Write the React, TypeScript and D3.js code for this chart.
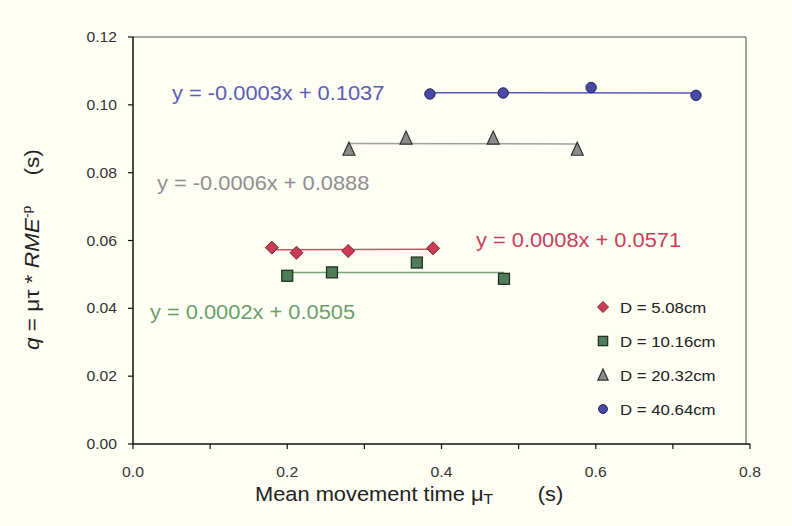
import React from "react";
import * as d3 from "d3";

const seriesNames = ["D = 5.08cm", "D = 10.16cm", "D = 20.32cm", "D = 40.64cm"];
const xRed = [0.18, 0.212, 0.279, 0.389];
const yRed = [0.0579, 0.0564, 0.0569, 0.0577];
const xGreen = [0.2, 0.258, 0.368, 0.481];
const yGreen = [0.0496, 0.0506, 0.0535, 0.0487];
const xGray = [0.28, 0.354, 0.467, 0.576];
const yGray = [0.0869, 0.0902, 0.0902, 0.0869];
const xBlue = [0.385, 0.48, 0.594, 0.73];
const yBlue = [0.1032, 0.1035, 0.1051, 0.1028];
const slopes = [0.0008, 0.0002, -0.0006, -0.0003];
const intercepts = [0.0571, 0.0505, 0.0888, 0.1037];
const equations = [
  "y = 0.0008x + 0.0571",
  "y = 0.0002x + 0.0505",
  "y = -0.0006x + 0.0888",
  "y = -0.0003x + 0.1037",
];
const xTicks = [0, 0.1, 0.2, 0.3, 0.4, 0.5, 0.6, 0.7, 0.8];
const xTickLabels = [0, 0.2, 0.4, 0.6, 0.8];
const yTicks = [0, 0.02, 0.04, 0.06, 0.08, 0.1, 0.12];

const W = 792, H = 526;
const M = { left: 133, right: 750, top: 37, bottom: 444 };
const FONT = "'Liberation Sans', Arial, sans-serif";
const SX = 1.12;

const styles = [
  { fill: "#cc3b55", stroke: "#7a2030", line: "#d05060", text: "#c8405a", shape: "diamond" },
  { fill: "#4f7d5a", stroke: "#1a2a1c", line: "#7aa67a", text: "#6aa06a", shape: "square" },
  { fill: "#8c8c8c", stroke: "#303030", line: "#a0a0a0", text: "#8f8f8f", shape: "triangle" },
  { fill: "#4848a8", stroke: "#24245a", line: "#5a5ab0", text: "#5c5cb4", shape: "circle" },
];
const eqPos = [
  { x: 476, y: 247 },
  { x: 150, y: 319 },
  { x: 157, y: 190 },
  { x: 172, y: 100 },
];

function T({ x, y, size, fill = "#222", anchor = "start", sx = SX, children }: any) {
  return (
    <text transform={`translate(${x},${y}) scale(${sx},1)`} textAnchor={anchor} fontSize={size} fill={fill}>
      {children}
    </text>
  );
}

function Marker({ shape, x, y, fill, stroke, k = 1 }: any) {
  if (shape === "diamond") {
    const s = 6.5 * k;
    return <path d={`M${x},${y - s}L${x + s},${y}L${x},${y + s}L${x - s},${y}Z`} fill={fill} stroke={stroke} strokeWidth={1} />;
  }
  if (shape === "square") {
    const s = 5.5 * k;
    return <rect x={x - s} y={y - s} width={2 * s} height={2 * s} fill={fill} stroke={stroke} strokeWidth={1.2} />;
  }
  if (shape === "triangle") {
    const s = 6 * k;
    return <path d={`M${x},${y - s - 1}L${x + s},${y + s}L${x - s},${y + s}Z`} fill={fill} stroke={stroke} strokeWidth={1.2} />;
  }
  return <circle cx={x} cy={y} r={5.2 * k} fill={fill} stroke={stroke} strokeWidth={1} />;
}

export default function App() {
  const x = d3.scaleLinear().domain([0, 0.8]).range([M.left, M.right]);
  const y = d3.scaleLinear().domain([0, 0.12]).range([M.bottom, M.top]);
  const xs = [xRed, xGreen, xGray, xBlue];
  const ys = [yRed, yGreen, yGray, yBlue];
  const fmtY = d3.format(".2f");
  const fmtX = d3.format(".1f");
  const legendY = [307, 341, 375, 409];

  return (
    <svg width={W} height={H} style={{ position: "absolute", left: 0, top: 0, background: "#fefef4" }} fontFamily={FONT}>
      <rect x={0} y={0} width={W} height={H} fill="#fefef4" />
      {/* frame */}
      <line x1={M.left} x2={M.right - 4} y1={M.top} y2={M.top} stroke="#888" strokeWidth={1.5} />
      <line x1={M.right - 4} x2={M.right - 4} y1={M.top} y2={M.bottom} stroke="#888" strokeWidth={1.5} />
      {/* axes */}
      <line x1={M.left} x2={M.left} y1={M.top} y2={M.bottom} stroke="#111" strokeWidth={1.5} />
      <line x1={M.left} x2={M.right} y1={M.bottom} y2={M.bottom} stroke="#111" strokeWidth={1.5} />
      {yTicks.map((t) => (
        <g key={"y" + t}>
          <line x1={M.left - 5} x2={M.left} y1={y(t)} y2={y(t)} stroke="#111" strokeWidth={1.2} />
          <T x={M.left - 16} y={y(t) + 5} anchor="end" size={14} fill="#333">{fmtY(t)}</T>
        </g>
      ))}
      {xTicks.map((t) => (
        <line key={"xt" + t} x1={x(t)} x2={x(t)} y1={M.bottom} y2={M.bottom + 5} stroke="#111" strokeWidth={1.2} />
      ))}
      {xTickLabels.map((t) => (
        <T key={"xl" + t} x={x(t)} y={M.bottom + 33} anchor="middle" size={14} fill="#333">{fmtX(t)}</T>
      ))}
      {/* trend lines */}
      {xs.map((xv, i) => {
        const [a, b] = d3.extent(xv) as [number, number];
        const line = d3.line<number>().x((d) => x(d)).y((d) => y(slopes[i] * d + intercepts[i]));
        return <path key={"l" + i} d={line([a, b]) || ""} stroke={styles[i].line} strokeWidth={1.5} fill="none" />;
      })}
      {/* points */}
      {xs.map((xv, i) =>
        xv.map((v, j) => (
          <Marker key={`p${i}-${j}`} shape={styles[i].shape} x={x(v)} y={y(ys[i][j])} fill={styles[i].fill} stroke={styles[i].stroke} />
        ))
      )}
      {/* equations */}
      {equations.map((e, i) => (
        <T key={"e" + i} x={eqPos[i].x} y={eqPos[i].y} size={19.5} fill={styles[i].text}>{e}</T>
      ))}
      {/* legend */}
      {seriesNames.map((n, i) => (
        <g key={"lg" + i}>
          <Marker shape={styles[i].shape} x={603} y={legendY[i]} fill={styles[i].fill} stroke={styles[i].stroke} k={0.85} />
          <T x={620} y={legendY[i] + 5.5} size={15} fill="#222">{n}</T>
        </g>
      ))}
      {/* x title */}
      <T x={255} y={501} size={19.5} fill="#222">
        Mean movement time <tspan>μ</tspan><tspan fontSize={14} dy={3}>T</tspan><tspan dy={-3} dx={40}>(s)</tspan>
      </T>
      {/* y title */}
      <text transform={`translate(39,350) rotate(-90) scale(1.16,1)`} textAnchor="start" fontSize={19.5} fill="#222">
        <tspan fontStyle="italic">q</tspan> = μτ * <tspan fontStyle="italic">RME</tspan><tspan fontSize={12} dy={-8}>-p</tspan><tspan dy={8} dx={26}>(s)</tspan>
      </text>
    </svg>
  );
}
